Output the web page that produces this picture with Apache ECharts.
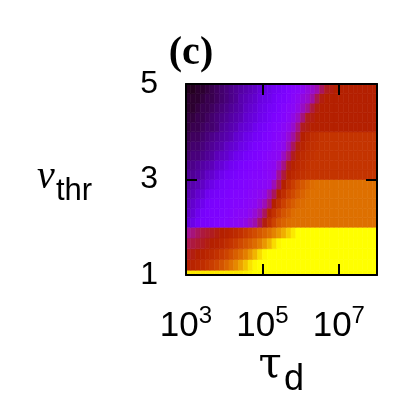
<!DOCTYPE html>
<html><head><meta charset="utf-8">
<script src="https://cdn.jsdelivr.net/npm/echarts@6/dist/echarts.min.js"></script>
<style>html,body{margin:0;padding:0;background:#fff}#c{width:407px;height:410px}</style>
</head><body><div id="c"></div>
<script>
// cell grid: log10(tau_d) columns, v_thr rows
const logTauStart = 3, logTauStep = 0.125, logTauMax = 8;
const vThrEdges = [1, 1.1, 1.325, 1.55, 1.775, 2.0, 2.2, 2.4, 2.6, 2.8, 3.0, 3.2, 3.4, 3.6, 3.8, 4.0, 4.2, 4.4, 4.6, 4.8, 5.0];
const xTickExps = [3, 5, 7];
const yTickVals = [1, 3, 5];

// colour value (0-100, palette fraction) per row, bottom to top, 40 columns each
const z_r00 = [97,97,97,97,97,97,97,97,97,97, 97,97,98,99,100,100,100,100,100,100, 100,100,100,100,100,100,100,100,100,100, 100,100,100,100,100,100,100,100,100,100];
const z_r01 = [50,52,54,56,59,62,65,69,73,77, 81,86,91,96,99,100,100,100,100,100, 100,100,100,100,100,100,100,100,100,100, 100,100,100,100,100,100,100,100,100,100];
const z_r02 = [48,49,50,51,53,55,58,61,64,68, 72,75,79,84,89,95,99,100,100,100, 100,100,100,100,100,100,100,100,100,100, 100,100,100,100,100,100,100,100,100,100];
const z_r03 = [45,46,47,48,49,50,51,53,56,59, 62,66,69,72,75,79,84,89,95,99, 100,100,100,100,100,100,100,100,100,100, 100,100,100,100,100,100,100,100,100,100];
const z_r04 = [40,42,44,46,47,48,49,50,51,53, 55,58,61,64,67,70,73,76,80,84, 88,93,97,100,100,100,100,100,100,100, 100,100,100,100,100,100,100,100,100,100];
const z_r05 = [16,18,21,23,23,24,25,26,27,28, 29,30,32,35,38,44,49,57,64,70, 73,75,76,76,76,76,76,76,76,76, 76,76,76,76,76,76,76,76,76,76];
const z_r06 = [14,16,19,22,23,24,24,25,26,27, 28,29,29,31,34,38,44,51,58,64, 69,72,75,76,76,76,76,76,76,76, 76,76,76,76,76,76,76,76,76,76];
const z_r07 = [13,15,17,19,22,23,24,24,25,26, 27,27,28,29,30,33,37,43,50,57, 63,68,71,74,75,76,76,76,76,76, 76,76,76,76,76,76,76,76,76,76];
const z_r08 = [12,13,15,16,19,21,22,23,24,25, 26,26,27,28,29,30,32,38,44,50, 56,62,66,70,73,75,76,76,76,76, 76,76,76,76,76,76,76,76,76,76];
const z_r09 = [11,12,13,14,16,18,20,22,23,24, 24,25,26,27,28,28,29,30,37,44, 50,57,62,67,70,73,75,76,76,76, 76,76,76,76,76,76,76,76,76,76];
const z_r10 = [10,10,11,12,14,15,17,19,21,22, 23,24,25,26,27,27,28,29,31,40, 46,51,54,56,58,59,59,59,59,59, 59,59,59,59,59,59,59,59,59,59];
const z_r11 = [9,9,10,11,12,13,15,16,18,20, 21,23,24,25,26,27,28,29,30,35, 41,48,51,54,56,58,59,59,59,59, 59,59,59,59,59,59,59,59,59,59];
const z_r12 = [7,8,8,9,10,11,13,14,15,17, 19,20,22,23,24,25,27,28,29,30, 36,42,48,52,55,57,58,59,59,59, 59,59,59,59,59,59,59,59,59,59];
const z_r13 = [6,7,7,8,9,10,11,12,14,15, 16,18,19,21,23,24,25,26,28,29, 31,37,44,49,52,55,57,58,59,59, 59,59,59,59,59,59,59,59,59,59];
const z_r14 = [5,6,6,7,8,9,10,11,12,13, 15,16,18,19,21,22,24,25,27,28, 30,34,39,45,50,53,56,57,59,59, 59,59,59,59,59,59,59,59,59,59];
const z_r15 = [4,5,5,6,7,7,8,10,11,12, 13,15,16,17,19,21,22,24,26,27, 29,31,35,41,48,49,50,50,50,50, 50,50,50,50,50,50,50,50,50,50];
const z_r16 = [4,4,5,5,6,7,8,9,10,11, 12,13,15,16,17,19,20,22,24,25, 27,29,32,36,42,48,49,50,50,50, 50,50,50,50,50,50,50,50,50,50];
const z_r17 = [3,3,4,5,5,6,7,8,9,10, 11,12,14,15,16,18,19,21,22,24, 26,28,29,32,36,40,46,49,50,50, 50,50,50,50,50,50,50,50,50,50];
const z_r18 = [3,3,3,4,5,5,6,7,8,9, 10,12,13,14,15,17,18,19,21,23, 24,26,28,30,33,35,39,45,49,50, 50,50,50,50,50,50,50,50,50,50];
const z_r19 = [2,2,3,3,4,5,6,7,8,9, 10,11,12,13,14,16,17,18,20,21, 23,25,27,28,30,33,35,38,44,48, 49,50,50,50,50,50,50,50,50,50];
const zRows = [z_r00,z_r01,z_r02,z_r03,z_r04,z_r05,z_r06,z_r07,z_r08,z_r09,z_r10,z_r11,z_r12,z_r13,z_r14,z_r15,z_r16,z_r17,z_r18,z_r19];

// gnuplot rgbformulae 7,5,15 palette
function pal(t){
  const r = Math.sqrt(t), g = t*t*t, b = Math.max(0, Math.sin(2*Math.PI*t));
  return 'rgb(' + Math.round(255*r) + ',' + Math.round(255*g) + ',' + Math.round(255*b) + ')';
}
const paletteStops = [];
for (let k = 0; k <= 64; k++) paletteStops.push(pal(k/64));

const cells = [];
zRows.forEach(function(row, j){
  row.forEach(function(z, i){
    cells.push([logTauStart + i*logTauStep, logTauStart + (i+1)*logTauStep, vThrEdges[j], vThrEdges[j+1], z/100]);
  });
});

const sans = '"Liberation Sans", Arial, sans-serif';
const serif = '"Liberation Serif", "Times New Roman", serif';
const lineSt = {show:true, onZero:false, lineStyle:{color:'#000', width:2}};
function tick(vals){ return {show:true, inside:true, length:11, customValues:vals, lineStyle:{color:'#000', width:2}}; }

const chart = echarts.init(document.getElementById('c'), null, {renderer:'canvas'});
chart.setOption({
  animation:false,
  backgroundColor:'#fff',
  grid:{left:186, top:84, width:191, height:191, containLabel:false, show:false},
  visualMap:{type:'continuous', show:false, min:0, max:1, dimension:4, seriesIndex:0, inRange:{color:paletteStops}},
  xAxis:[
    {type:'value', min:logTauStart, max:logTauMax, interval:2, position:'bottom', z:10,
     axisLine:lineSt, axisTick:tick(xTickExps), splitLine:{show:false},
     axisLabel:{customValues:xTickExps, margin:29, color:'#000',
       formatter:function(v){ return '{b|10}{s|' + v + '}'; },
       rich:{b:{fontSize:35, lineHeight:44, fontFamily:sans, color:'#000'},
             s:{fontSize:24, lineHeight:24, verticalAlign:'top', fontFamily:sans, color:'#000'}}}},
    {type:'value', min:logTauStart, max:logTauMax, interval:2, position:'top', z:10,
     axisLine:lineSt, axisTick:tick(xTickExps), splitLine:{show:false}, axisLabel:{show:false}}
  ],
  yAxis:[
    {type:'value', min:1, max:5, interval:2, position:'left', z:10,
     axisLine:lineSt, axisTick:tick(yTickVals), splitLine:{show:false},
     axisLabel:{customValues:yTickVals, margin:28, fontSize:32, fontFamily:sans, color:'#000'}},
    {type:'value', min:1, max:5, interval:2, position:'right', z:10,
     axisLine:lineSt, axisTick:tick(yTickVals), splitLine:{show:false}, axisLabel:{show:false}}
  ],
  graphic:[
    {type:'text', z:20, style:{text:'(c)', x:191, y:54, font:'bold 40px ' + serif, fill:'#000', align:'center', verticalAlign:'middle', textAlign:'center', textVerticalAlign:'middle'}},
    {type:'text', z:20, style:{text:'ν', x:46, y:177, font:'italic 40px ' + serif, fill:'#000', align:'center', verticalAlign:'middle', textAlign:'center', textVerticalAlign:'middle'}},
    {type:'text', z:20, style:{text:'thr', x:56, y:191, font:'31px ' + sans, fill:'#000', align:'left', verticalAlign:'middle', textAlign:'left', textVerticalAlign:'middle'}},
    {type:'text', z:20, style:{text:'τ', x:270, y:366, font:'42px "DejaVu Serif", serif', fill:'#000', align:'center', verticalAlign:'middle', textAlign:'center', textVerticalAlign:'middle'}},
    {type:'text', z:20, style:{text:'d', x:284, y:380, font:'36px ' + sans, fill:'#000', align:'left', verticalAlign:'middle', textAlign:'left', textVerticalAlign:'middle'}}
  ],
  series:[{
    type:'custom', xAxisIndex:0, yAxisIndex:0, clip:true,
    encode:{x:[0,1], y:[2,3]},
    data:cells,
    renderItem:function(params, api){
      const p0 = api.coord([api.value(0), api.value(2)]);
      const p1 = api.coord([api.value(1), api.value(3)]);
      const c = api.visual('color');
      return {type:'rect', shape:{x:p0[0], y:p1[1], width:p1[0]-p0[0], height:p0[1]-p1[1]}, style:{fill:c, stroke:c, lineWidth:0.6}};
    }
  }]
});
</script></body></html>
